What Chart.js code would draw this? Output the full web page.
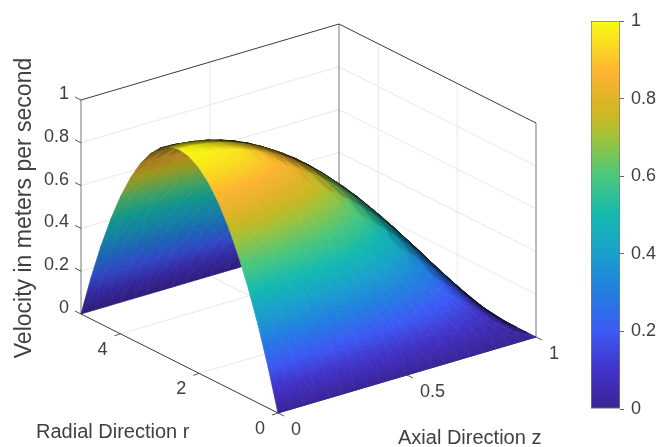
<!DOCTYPE html>
<html>
<head>
<meta charset="utf-8">
<title>Velocity surface</title>
<script src="https://cdn.jsdelivr.net/npm/chart.js@4"></script>
<style>
  html, body { margin: 0; padding: 0; background: #fff; overflow: hidden; }
  canvas { position: absolute; top: 0; }
  #surface { left: 0; }
  #colorbar { left: 560px; }
</style>
</head>
<body>
<canvas id="surface" width="671" height="447"></canvas>
<canvas id="colorbar" width="111" height="447"></canvas>
<script>
// data
const radialValues = [0, 0.25, 0.5, 0.75, 1, 1.25, 1.5, 1.75, 2, 2.25, 2.5, 2.75, 3, 3.25, 3.5, 3.75, 4, 4.25, 4.5, 4.75, 5];
const axialValues = [0, 0.05, 0.1, 0.15, 0.2, 0.25, 0.3, 0.35, 0.4, 0.45, 0.5, 0.55, 0.6, 0.65, 0.7, 0.75, 0.8, 0.85, 0.9, 0.95, 1];
// one row per axial position, one column per radial position
const velocityRows = [
  [0, .190, .360, .510, .640, .750, .840, .910, .960, .990, 1, .990, .960, .910, .840, .750, .640, .510, .360, .190, 0],
  [0, .190, .359, .509, .638, .748, .838, .908, .958, .988, .998, .988, .958, .908, .838, .748, .638, .509, .359, .190, 0],
  [0, .188, .356, .505, .634, .743, .832, .901, .950, .980, .990, .980, .950, .901, .832, .743, .634, .505, .356, .188, 0],
  [0, .186, .352, .499, .626, .733, .821, .890, .938, .968, .978, .968, .938, .890, .821, .733, .626, .499, .352, .186, 0],
  [0, .182, .346, .490, .614, .720, .806, .874, .922, .950, .960, .950, .922, .874, .806, .720, .614, .490, .346, .182, 0],
  [0, .178, .338, .478, .600, .703, .788, .853, .900, .928, .938, .928, .900, .853, .788, .703, .600, .478, .338, .178, 0],
  [0, .173, .328, .464, .582, .683, .764, .828, .874, .901, .910, .901, .874, .828, .764, .683, .582, .464, .328, .173, 0],
  [0, .167, .316, .448, .562, .658, .737, .799, .842, .869, .878, .869, .842, .799, .737, .658, .562, .448, .316, .167, 0],
  [0, .160, .302, .428, .538, .630, .706, .764, .806, .832, .840, .832, .806, .764, .706, .630, .538, .428, .302, .160, 0],
  [0, .152, .287, .407, .510, .598, .670, .726, .766, .790, .798, .790, .766, .726, .670, .598, .510, .407, .287, .152, 0],
  [0, .143, .270, .383, .480, .563, .630, .683, .720, .743, .750, .743, .720, .683, .630, .563, .480, .383, .270, .143, 0],
  [0, .133, .251, .356, .446, .523, .586, .635, .670, .691, .698, .691, .670, .635, .586, .523, .446, .356, .251, .133, 0],
  [0, .122, .230, .326, .410, .480, .538, .582, .614, .634, .640, .634, .614, .582, .538, .480, .410, .326, .230, .122, 0],
  [0, .110, .208, .295, .370, .433, .485, .526, .554, .572, .578, .572, .554, .526, .485, .433, .370, .295, .208, .110, 0],
  [0, .097, .184, .260, .326, .383, .428, .464, .490, .505, .510, .505, .490, .464, .428, .383, .326, .260, .184, .097, 0],
  [0, .083, .158, .223, .280, .328, .368, .398, .420, .433, .438, .433, .420, .398, .368, .328, .280, .223, .158, .083, 0],
  [0, .068, .130, .184, .230, .270, .302, .328, .346, .356, .360, .356, .346, .328, .302, .270, .230, .184, .130, .068, 0],
  [0, .053, .100, .142, .178, .208, .233, .253, .266, .275, .278, .275, .266, .253, .233, .208, .178, .142, .100, .053, 0],
  [0, .036, .068, .097, .122, .143, .160, .173, .182, .188, .190, .188, .182, .173, .160, .143, .122, .097, .068, .036, 0],
  [0, .019, .035, .050, .062, .073, .082, .089, .094, .097, .098, .097, .094, .089, .082, .073, .062, .050, .035, .019, 0],
  [0, 0, 0, 0, 0, 0, 0, 0, 0, 0, 0, 0, 0, 0, 0, 0, 0, 0, 0, 0, 0]
];
const velocityTicks = [0, 0.2, 0.4, 0.6, 0.8, 1];
const radialTicks = [0, 2, 4];
const axialTicks = [0, 0.5, 1];
const radialMax = 5;
const radialGrid = [2, 4];
const axialGrid = [0.5];
const colorbarRange = [0, 1];

// colormap taken from the colorbar
const colormapValues = [0, 0.1, 0.2, 0.3, 0.4, 0.5, 0.6, 0.7, 0.75, 0.8, 0.87, 0.93, 1];
const colormapColors = [
  [58, 36, 150], [66, 50, 200], [60, 90, 245], [35, 125, 225], [25, 160, 205], [20, 185, 175],
  [75, 200, 125], [160, 195, 60], [200, 185, 35], [225, 180, 40], [255, 180, 50], [250, 215, 35], [250, 250, 20]
];

// view: screen offset of each axis, plus depth towards the viewer
const origin = { x: 278, y: 413 };
const axialAxis = { x: 258, y: -76, d: -183 };
const radialAxis = { x: -197, y: -99, d: -238 };
const velocityAxis = { x: 0, y: -214, d: 89 };

const textColor = '#404040';
const gridColor = '#e8e8e8';
const fontFamily = '"Liberation Sans", Arial, sans-serif';

function project(r, z, v) {
  const s = r / radialMax;
  return {
    x: origin.x + axialAxis.x * z + radialAxis.x * s + velocityAxis.x * v,
    y: origin.y + axialAxis.y * z + radialAxis.y * s + velocityAxis.y * v
  };
}

function colormap(v, shade) {
  let i = 0;
  while (i < colormapValues.length - 2 && v > colormapValues[i + 1]) i++;
  const t = Math.min(1, Math.max(0, (v - colormapValues[i]) / (colormapValues[i + 1] - colormapValues[i])));
  const c = colormapColors[i].map((c0, k) => (c0 + (colormapColors[i + 1][k] - c0) * t) * shade);
  return `rgb(${Math.round(c[0])},${Math.round(c[1])},${Math.round(c[2])})`;
}

// headlight style shading: dark only where the surface turns away from the viewer,
// and a bit muted on the underside seen through the arch
function shadeAt(iz, ir) {
  const rows = velocityRows;
  const iz0 = Math.max(0, iz - 1), iz1 = Math.min(axialValues.length - 1, iz + 1);
  const ir0 = Math.max(0, ir - 1), ir1 = Math.min(radialValues.length - 1, ir + 1);
  const dvdz = (rows[iz1][ir] - rows[iz0][ir]) / (axialValues[iz1] - axialValues[iz0]);
  const dvds = (rows[iz][ir1] - rows[iz][ir0]) / ((radialValues[ir1] - radialValues[ir0]) / radialMax);
  const tz = [axialAxis.x, -axialAxis.y - velocityAxis.y * dvdz, axialAxis.d + velocityAxis.d * dvdz];
  const tr = [radialAxis.x, -radialAxis.y - velocityAxis.y * dvds, radialAxis.d + velocityAxis.d * dvds];
  const n = [
    tz[1] * tr[2] - tz[2] * tr[1],
    tz[2] * tr[0] - tz[0] * tr[2],
    tz[0] * tr[1] - tz[1] * tr[0]
  ];
  const len = Math.hypot(n[0], n[1], n[2]);
  const facing = n[2] / len;
  const shade = Math.min(1, 0.12 + 2.3 * Math.abs(facing));
  return facing < 0 ? shade * 0.8 : shade;
}

function vertex(iz, ir) {
  const v = velocityRows[iz][ir];
  const p = project(radialValues[ir], axialValues[iz], v);
  return { x: p.x, y: p.y, v: v, shade: shadeAt(iz, ir) };
}

// linear gradient across one triangle, stops placed so the corners get their own colour
function triangleFill(chart, tri) {
  if (!chart.chartArea) return '#000000';
  const sx = chart.scales.x, sy = chart.scales.y;
  const pts = tri.map(p => ({
    x: sx.getPixelForValue(p.x),
    y: sy.getPixelForValue(p.y),
    v: p.v,
    shade: p.shade,
    t: p.v + 0.4 * p.shade
  })).sort((a, b) => a.t - b.t);
  const [a, b, c] = pts;
  const span = c.t - a.t;
  const ux = b.x - a.x, uy = b.y - a.y, wx = c.x - a.x, wy = c.y - a.y;
  const det = ux * wy - uy * wx;
  if (span < 1e-4 || Math.abs(det) < 1e-6) return colormap((a.v + b.v + c.v) / 3, (a.shade + b.shade + c.shade) / 3);
  const gx = ((b.t - a.t) * wy - (c.t - a.t) * uy) / det;
  const gy = ((c.t - a.t) * ux - (b.t - a.t) * wx) / det;
  const g2 = gx * gx + gy * gy;
  const gradient = chart.ctx.createLinearGradient(a.x, a.y, a.x + gx * span / g2, a.y + gy * span / g2);
  const steps = 8;
  for (let i = 0; i <= steps; i++) {
    const t = a.t + span * i / steps;
    const p = t <= b.t ? a : b, q = t <= b.t ? b : c;
    const f = q.t > p.t ? (t - p.t) / (q.t - p.t) : 0;
    gradient.addColorStop(i / steps, colormap(p.v + (q.v - p.v) * f, p.shade + (q.shade - p.shade) * f));
  }
  return gradient;
}

function lineSet(points, color, width) {
  return { data: points, showLine: true, pointRadius: 0, fill: false, borderColor: color, borderWidth: width };
}

function triangleSet(tri) {
  const paint = ctx => triangleFill(ctx.chart, tri);
  return {
    data: [tri[0], tri[1], tri[2], tri[0]].map(p => ({ x: p.x, y: p.y })),
    showLine: true,
    pointRadius: 0,
    fill: 'shape',
    backgroundColor: paint,
    borderColor: paint,
    borderWidth: 0.7
  };
}

const backToFront = [];

// grid on the two back walls and the floor
velocityTicks.slice(1, -1).forEach(v => {
  backToFront.push(lineSet([project(radialMax, 0, v), project(radialMax, 1, v), project(0, 1, v)], gridColor, 1));
});
axialGrid.forEach(z => {
  backToFront.push(lineSet([project(radialMax, z, 0), project(radialMax, z, 1)], gridColor, 1));
  backToFront.push(lineSet([project(0, z, 0), project(radialMax, z, 0)], gridColor, 1));
});
radialGrid.forEach(r => {
  backToFront.push(lineSet([project(r, 1, 0), project(r, 1, 1)], gridColor, 1));
  backToFront.push(lineSet([project(r, 0, 0), project(r, 1, 0)], gridColor, 1));
});

// box edges behind the surface
backToFront.push(lineSet([project(radialMax, 1, 0), project(radialMax, 1, 1)], '#8c8c8c', 1.2));
backToFront.push(lineSet([project(0, 1, 0), project(0, 1, 1)], '#8c8c8c', 1.2));
backToFront.push(lineSet([project(radialMax, 0, 0), project(radialMax, 0, 1)], '#8c8c8c', 1.2));
backToFront.push(lineSet([project(radialMax, 0, 1), project(radialMax, 1, 1), project(0, 1, 1)], '#3a3a3a', 1));

// axes ticks
velocityTicks.forEach(v => {
  const p = project(radialMax, 0, v);
  backToFront.push(lineSet([p, { x: p.x - 6, y: p.y - 3 }], '#555555', 1));
});
radialTicks.forEach(r => {
  const p = project(r, 0, 0);
  backToFront.push(lineSet([p, { x: p.x - 6, y: p.y + 2 }], '#555555', 1));
});
axialTicks.forEach(z => {
  const p = project(0, z, 0);
  backToFront.push(lineSet([p, { x: p.x + 6, y: p.y + 3 }], '#555555', 1));
});
backToFront.push(lineSet([project(radialMax, 0, 0), project(0, 0, 0), project(0, 1, 0)], '#3a3a3a', 1));

// surface, far corner first
for (let iz = axialValues.length - 2; iz >= 0; iz--) {
  for (let ir = radialValues.length - 2; ir >= 0; ir--) {
    const a = vertex(iz, ir), b = vertex(iz, ir + 1), c = vertex(iz + 1, ir + 1), d = vertex(iz + 1, ir);
    backToFront.push(triangleSet([b, c, d]));
    backToFront.push(triangleSet([a, b, d]));
  }
}

// chart.js paints the first dataset last
const surfaceDatasets = backToFront.reverse();

const axisText = {
  id: 'axisText',
  afterDatasetsDraw(chart) {
    const c = chart.ctx;
    const sx = chart.scales.x, sy = chart.scales.y;
    const put = (text, x, y, align) => {
      c.textAlign = align;
      c.fillText(text, sx.getPixelForValue(x), sy.getPixelForValue(y));
    };
    c.save();
    c.fillStyle = textColor;
    c.textBaseline = 'middle';
    c.font = '18px ' + fontFamily;
    velocityTicks.forEach(v => {
      const p = project(radialMax, 0, v);
      put(String(v), p.x - 12, p.y - 6, 'right');
    });
    radialTicks.forEach(r => {
      const p = project(r, 0, 0);
      put(String(r), p.x - 18, p.y + 16, 'center');
    });
    axialTicks.forEach(z => {
      const p = project(0, z, 0);
      put(String(z), p.x + 13, p.y + 17, 'left');
    });
    c.font = '20px ' + fontFamily;
    put('Radial Direction r', 36, 432, 'left');
    put('Axial Direction z', 398, 438, 'left');
    c.translate(25, 208);
    c.rotate(-Math.PI / 2);
    c.textAlign = 'center';
    c.font = '23px ' + fontFamily;
    c.fillText('Velocity in meters per second', 0, 0);
    c.restore();
  }
};

new Chart(document.getElementById('surface').getContext('2d'), {
  type: 'scatter',
  data: { datasets: surfaceDatasets },
  plugins: [axisText],
  options: {
    responsive: false,
    animation: false,
    events: [],
    layout: { padding: 0 },
    plugins: { legend: { display: false }, tooltip: { enabled: false } },
    scales: {
      x: { type: 'linear', display: false, min: 0, max: 671 },
      y: { type: 'linear', display: false, min: 0, max: 447, reverse: true }
    }
  }
});

function colorbarFill(ctx) {
  if (!ctx.chart.chartArea) return '#000000';
  const y = ctx.chart.scales.y;
  const gradient = ctx.chart.ctx.createLinearGradient(0, y.getPixelForValue(0), 0, y.getPixelForValue(1));
  colormapValues.forEach(v => gradient.addColorStop(v, colormap(v, 1)));
  return gradient;
}

new Chart(document.getElementById('colorbar').getContext('2d'), {
  type: 'bar',
  data: {
    labels: ['velocity'],
    datasets: [{
      data: [colorbarRange],
      backgroundColor: colorbarFill,
      borderColor: '#7a7a7a',
      borderWidth: 1,
      borderSkipped: false,
      barPercentage: 1,
      categoryPercentage: 1
    }]
  },
  options: {
    responsive: false,
    animation: false,
    events: [],
    layout: { padding: { left: 31, top: 21, bottom: 38 } },
    plugins: { legend: { display: false }, tooltip: { enabled: false } },
    scales: {
      x: { display: false },
      y: {
        position: 'right',
        min: 0,
        max: 1,
        afterFit(scale) { scale.width = 51; },
        grid: { drawOnChartArea: false, tickLength: 4, color: '#666666' },
        border: { display: false },
        ticks: {
          stepSize: 0.2,
          padding: 7,
          color: textColor,
          font: { family: fontFamily, size: 18 },
          callback: value => String(Number(value.toFixed(1)))
        }
      }
    }
  }
});
</script>
</body>
</html>
